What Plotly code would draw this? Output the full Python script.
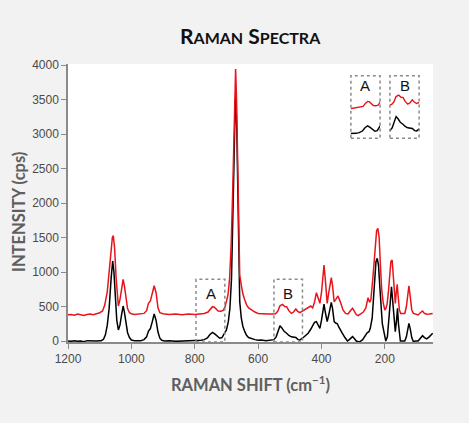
import plotly.graph_objects as go

# ---- data ----
shift_black = [1200, 1190, 1180, 1170, 1160, 1150, 1140, 1130, 1120, 1110, 1100, 1095, 1088, 1082, 1076, 1070,
               1064, 1059, 1055, 1050, 1046, 1041, 1036, 1031, 1026, 1022, 1017, 1012, 1006, 1000, 990, 980,
               970, 960, 952, 946, 940, 934, 928, 922, 916, 910, 904, 895, 880, 860, 840, 820, 800, 790, 780,
               770, 760, 752, 744, 736, 728, 721, 714, 707, 700, 694, 689, 684, 680, 676, 672, 670, 667, 663,
               660, 658, 653, 648, 642, 636, 630, 620, 610, 600, 590, 575, 560, 550, 543, 537, 531, 525, 518,
               510, 503, 495, 488, 481, 474, 468, 460, 452, 442, 434, 428, 422, 416, 410, 405, 400, 396, 392,
               388, 382, 377, 373, 369, 365, 360, 355, 350, 345, 340, 334, 326, 318, 312, 306, 302, 297, 290,
               284, 278, 270, 262, 256, 250, 246, 240, 236, 232, 228, 224, 220, 216, 212, 208, 203, 197, 192,
               188, 184, 179, 175, 171, 167, 163, 160, 157, 153, 151, 145, 140, 137, 132, 128, 124, 120, 115,
               110, 103, 95, 88, 81, 75, 68, 60, 55, 49]
intensity_black = [0, -5, 5, -5, 0, -10, 5, 0, -5, 0, 5, 5, 25, 90, 230, 480,
                   900, 1160, 1000, 600, 300, 160, 230, 380, 507, 420, 250, 120, 50, 15, 5, 0,
                   5, 20, 60, 145, 180, 280, 391, 300, 130, 40, 10, 0, 5, -5, 0, 5, 0, 5, 10,
                   20, 45, 95, 125, 100, 60, 40, 50, 100, 160, 280, 474, 900, 1600, 2600, 3500, 3550, 3000, 1900,
                   1000, 570, 330, 210, 135, 80, 50, 30, 20, 10, 15, 5, 10, 20, 60, 140, 222, 190, 140,
                   112, 80, 60, 50, 50, 20, 15, 40, 70, 112, 170, 230, 270, 280, 230, 184, 300, 450, 536,
                   420, 280, 380, 500, 560, 470, 280, 260, 250, 200, 150, 112, 50, 0, 20, 50, 63, 40, 0,
                   -10, -8, 20, 80, 120, 135, 184, 330, 650, 950, 1150, 1198, 1100, 800, 450, 250, 135, 0, 60,
                   232, 500, 787, 550, 250, 135, 300, 473, 250, 60, 0, 0, 5, 0, 60, 180, 256, 180, 50,
                   -10, 0, 0, 40, 77, 50, 30, 60, 90, 112]

shift_red = [1200, 1190, 1180, 1170, 1160, 1150, 1140, 1130, 1120, 1110, 1100, 1091, 1084, 1076, 1070, 1065,
             1060, 1057, 1053, 1048, 1044, 1041, 1036, 1031, 1026, 1022, 1017, 1012, 1006, 1000, 990, 975,
             960, 952, 946, 940, 934, 928, 922, 916, 910, 900, 880, 860, 840, 820, 800, 780, 770, 758, 750,
             744, 738, 730, 726, 718, 710, 704, 700, 695, 690, 685, 680, 676, 672, 671, 668, 665, 662, 659,
             658, 652, 648, 642, 636, 630, 621, 610, 600, 590, 570, 555, 545, 538, 531, 523, 516, 510, 503,
             495, 488, 481, 475, 468, 460, 452, 442, 434, 428, 422, 416, 410, 405, 400, 396, 392, 388, 382,
             377, 373, 369, 365, 360, 355, 348, 340, 332, 324, 316, 310, 302, 296, 290, 284, 276, 268, 260,
             253, 248, 244, 238, 232, 226, 222, 218, 214, 210, 205, 200, 196, 193, 189, 185, 181, 177, 173,
             169, 167, 164, 161, 158, 154, 150, 142, 137, 132, 128, 124, 120, 115, 110, 103, 95, 88, 81,
             75, 68, 60, 55, 49]
intensity_red = [380, 385, 375, 390, 380, 370, 385, 390, 380, 395, 410, 435, 520, 715, 1000, 1300,
                 1500, 1526, 1350, 900, 600, 507, 600, 780, 894, 800, 600, 470, 410, 395, 385, 390,
                 400, 440, 546, 580, 680, 801, 700, 480, 410, 395, 385, 390, 380, 390, 385, 400, 400, 420, 470,
                 497, 490, 450, 435, 430, 442, 500, 560, 667, 900, 1400, 2200, 3100, 3900, 3940, 3500, 2600, 1700, 1100,
                 956, 780, 680, 594, 520, 480, 449, 420, 400, 395, 390, 390, 395, 430, 510, 531, 500, 497, 440,
                 400, 420, 463, 430, 410, 430, 450, 480, 507, 480, 560, 700, 620, 546, 700, 950, 1101, 900, 546,
                 700, 850, 917, 800, 570, 600, 652, 560, 449, 400, 391, 430, 473, 430, 380, 367, 390, 420, 480,
                 628, 560, 600, 900, 1300, 1600, 1633, 1500, 1100, 750, 550, 449, 480, 531, 700, 950, 1150, 1174, 900,
                 600, 546, 700, 821, 650, 450, 400, 395, 400, 500, 700, 801, 650, 450, 400, 390, 377, 410, 435,
                 400, 387, 390, 395, 400]

y_ticks = [0, 500, 1000, 1500, 2000, 2500, 3000, 3500, 4000]
x_ticks = [1200, 1000, 800, 600, 400, 200]
box_a = [796, 705]
box_b = [550, 460]

RED = "#e8141c"
BLACK = "#000000"
GRAY = "#8a8a8a"

fig = go.Figure()

# main traces
fig.add_trace(go.Scatter(x=shift_black, y=intensity_black, mode="lines",
                         line=dict(color=BLACK, width=1.5), xaxis="x", yaxis="y"))
fig.add_trace(go.Scatter(x=shift_red, y=intensity_red, mode="lines",
                         line=dict(color=RED, width=1.5), xaxis="x", yaxis="y"))

# inset traces
for xa, ya in (("x2", "y2"), ("x3", "y3")):
    fig.add_trace(go.Scatter(x=shift_black, y=intensity_black, mode="lines",
                             line=dict(color=BLACK, width=1.4), xaxis=xa, yaxis=ya))
    fig.add_trace(go.Scatter(x=shift_red, y=intensity_red, mode="lines",
                             line=dict(color=RED, width=1.4), xaxis=xa, yaxis=ya))

axis_common = dict(showgrid=False, zeroline=False, ticks="outside", ticklen=5, tickwidth=1,
                   tickcolor=GRAY, showline=True, linecolor=GRAY, linewidth=1.5,
                   tickfont=dict(family="Liberation Sans, Arial", size=12, color="#4a4a4a"))

fig.update_layout(
    width=469, height=423,
    margin=dict(l=68, r=36, t=64, b=81),
    paper_bgcolor="#f2f2f2", plot_bgcolor="#ffffff",
    showlegend=False,
    xaxis=dict(range=[1200, 48], tickvals=x_ticks, **axis_common),
    yaxis=dict(range=[-14.5, 4014.5], tickvals=y_ticks, **axis_common),
    xaxis2=dict(domain=[0.775, 0.855], range=[box_a[0], box_a[1]], visible=False, anchor="y2"),
    yaxis2=dict(domain=[0.733, 0.958], range=[-65, 890], visible=False, anchor="x2"),
    xaxis3=dict(domain=[0.882, 0.962], range=[box_b[0], box_b[1]], visible=False, anchor="y3"),
    yaxis3=dict(domain=[0.733, 0.958], range=[-90, 810], visible=False, anchor="x3"),
)

dot = dict(color=GRAY, width=1.5, dash="dot")
# main dotted boxes
for b in (box_a, box_b):
    fig.add_shape(type="rect", xref="x", yref="y", x0=b[0], x1=b[1], y0=-14.5, y1=894, line=dot)
# inset dotted boxes
for xa in ("x2", "x3"):
    fig.add_shape(type="rect", xref=f"{xa} domain", yref="y2 domain", x0=0, x1=1, y0=0, y1=1, line=dot)

lab_font = dict(family="Liberation Sans, Arial", size=15, color="#111111")
for txt, xv in (("A", 750), ("B", 505)):
    fig.add_annotation(x=xv, y=691, xref="x", yref="y", text=txt, showarrow=False, font=lab_font,
                       xanchor="center", yanchor="middle")
for txt, xa, ya in (("A", "x2", "y2"), ("B", "x3", "y3")):
    fig.add_annotation(x=0.5, y=0.84, xref=f"{xa} domain", yref=f"{ya} domain", text=txt,
                       showarrow=False, font=lab_font, xanchor="center", yanchor="middle")

# title (small caps)
fig.add_annotation(
    x=0.5, y=1.1025, xref="paper", yref="paper", showarrow=False, xanchor="center", yanchor="middle",
    text="<b>R<span style='font-size:16px'>AMAN</span> S<span style='font-size:16px'>PECTRA</span></b>",
    font=dict(family="Lato", size=21, color="#111111"))

title_font = dict(family="Lato", size=16.5, color="#5f5f5f")
fig.add_annotation(x=-0.134, y=0.468, xref="paper", yref="paper", showarrow=False, textangle=-90,
                   xanchor="center", yanchor="middle",
                   text="<b>INTENSITY (cps)</b>", font=title_font)
fig.add_annotation(x=0.5, y=-0.151, xref="paper", yref="paper", showarrow=False,
                   xanchor="center", yanchor="middle",
                   text="<b>RAMAN SHIFT (cm<sup>−1</sup>)</b>", font=title_font)

fig.write_html("out.html", config={"displayModeBar": False},
               post_script="document.body.style.margin='0';document.body.style.background='#f2f2f2';")
